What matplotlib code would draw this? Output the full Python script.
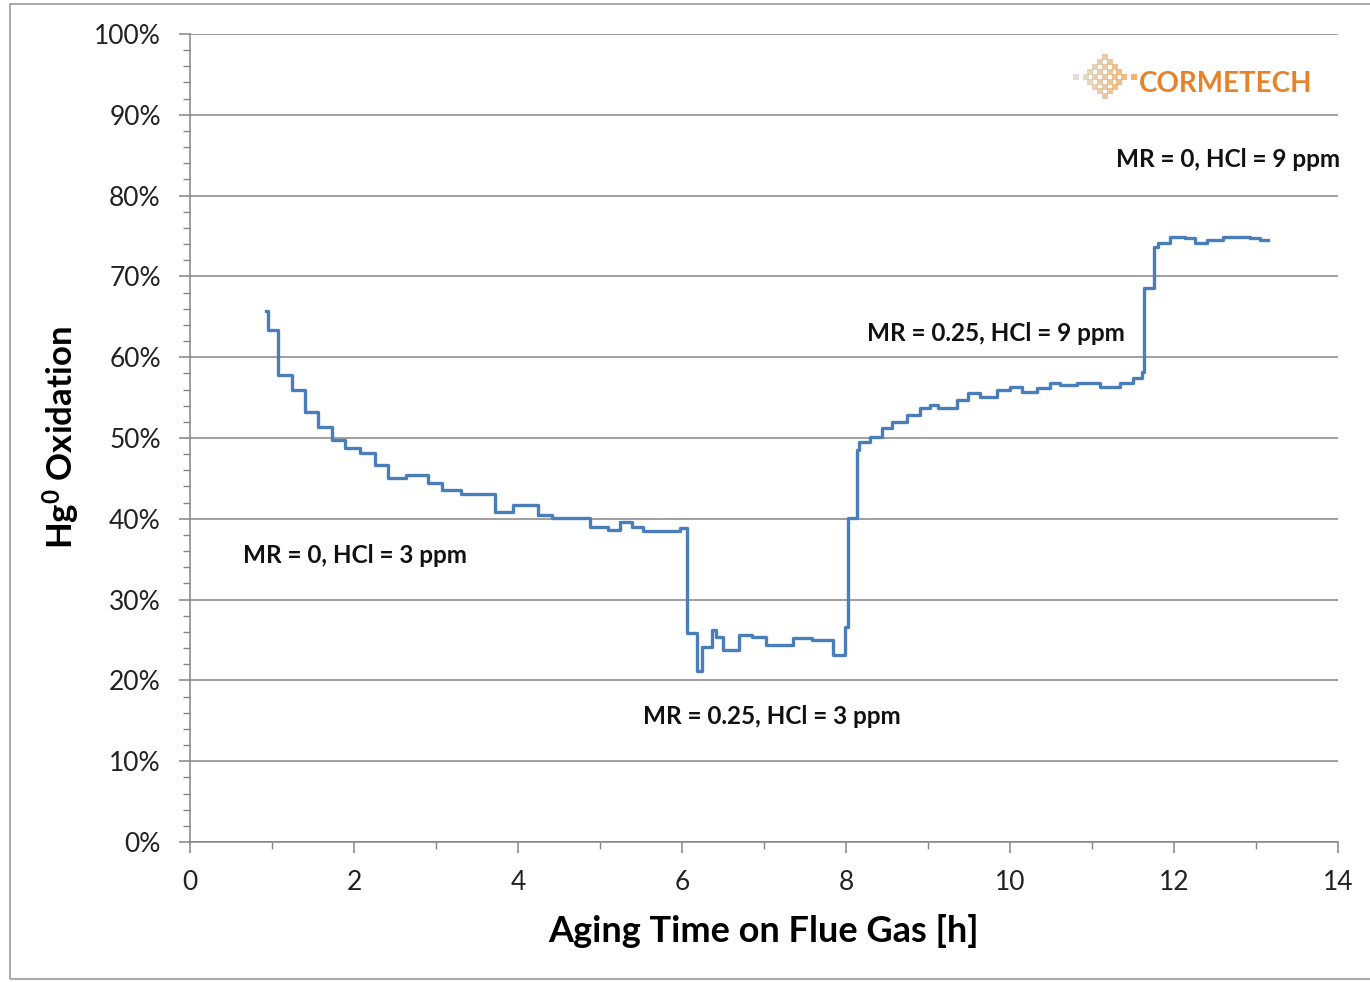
import numpy as np
import matplotlib
matplotlib.use("Agg")
import matplotlib.pyplot as plt
from matplotlib.patches import Rectangle
from matplotlib.ticker import MultipleLocator, FuncFormatter

plt.rcParams['font.family'] = ['Lato', 'DejaVu Sans']
plt.rcParams['mathtext.default'] = 'regular'

# step data: start time of each step [h] and Hg0 oxidation [%]
hours = [0.93, 0.95, 1.07, 1.24, 1.40, 1.56, 1.73, 1.89, 2.07, 2.26, 2.41, 2.64,
         2.90, 3.07, 3.30, 3.72, 3.94, 4.24, 4.41, 4.88, 5.10, 5.24, 5.39, 5.53,
         5.98, 6.06, 6.18, 6.24, 6.37, 6.41, 6.50, 6.70, 6.85, 7.03, 7.35, 7.58,
         7.84, 7.99, 8.02, 8.13, 8.16, 8.29, 8.44, 8.56, 8.74, 8.90, 9.02, 9.12,
         9.35, 9.49, 9.63, 9.84, 10.00, 10.15, 10.33, 10.49, 10.61, 10.82, 11.10,
         11.34, 11.50, 11.61, 11.64, 11.75, 11.80, 11.95, 12.13, 12.26, 12.40,
         12.60, 12.93, 13.05, 13.15]
oxidation = [65.7, 63.4, 57.8, 56.0, 53.2, 51.4, 49.8, 48.8, 48.1, 46.7, 45.0, 45.4,
             44.4, 43.6, 43.1, 40.8, 41.7, 40.5, 40.1, 39.0, 38.6, 39.6, 39.0, 38.5,
             38.9, 25.9, 21.2, 24.1, 26.2, 25.4, 23.8, 25.6, 25.4, 24.4, 25.3, 25.0,
             23.1, 26.6, 40.1, 48.5, 49.5, 50.1, 51.2, 52.0, 52.8, 53.7, 54.1, 53.7,
             54.7, 55.6, 55.1, 55.9, 56.3, 55.7, 56.2, 56.8, 56.6, 56.8, 56.3,
             56.8, 57.4, 58.2, 68.6, 73.6, 74.1, 74.9, 74.8, 74.1, 74.5,
             74.9, 74.8, 74.5, 74.5]

conditions = ["MR = 0, HCl = 3 ppm", "MR = 0.25, HCl = 3 ppm",
              "MR = 0.25, HCl = 9 ppm", "MR = 0, HCl = 9 ppm"]
cond_x = [2.01, 7.10, 9.83, 12.66]
cond_y = [35.5, 15.5, 62.9, 84.5]

fig = plt.figure(figsize=(13.7, 9.82), dpi=100)
ax = fig.add_axes([190/1370, 140/982, 1148/1370, 808/982])

ax.step(hours, oxidation, where='post', color='#4a7ebb', lw=2.4, zorder=3)

ax.set_xlim(0, 14)
ax.set_ylim(0, 100)
ax.xaxis.set_major_locator(MultipleLocator(2))
ax.xaxis.set_minor_locator(MultipleLocator(1))
ax.yaxis.set_major_locator(MultipleLocator(10))
ax.yaxis.set_minor_locator(MultipleLocator(2))
ax.yaxis.set_major_formatter(FuncFormatter(lambda v, p: '%d%%' % v))

ax.grid(axis='y', which='major', color='#858585', lw=1.1)
for s in ['top', 'right']:
    ax.spines[s].set_visible(False)
for s in ['left', 'bottom']:
    ax.spines[s].set_color('#858585')
    ax.spines[s].set_linewidth(1.1)
ax.tick_params(which='both', colors='#858585', labelcolor='#222222', labelsize=19)
ax.tick_params(which='major', length=8, width=1.1)
ax.tick_params(which='minor', length=5, width=1.0)
ax.tick_params(axis='x', pad=12)
ax.tick_params(axis='y', pad=13)

ax.set_xlabel('Aging Time on Flue Gas [h]', fontsize=26, fontweight='bold')
ax.set_ylabel('Hg$^0$ Oxidation', fontsize=25, fontweight='bold')
ax.xaxis.set_label_coords(0.5, -0.089)
ax.yaxis.set_label_coords(-0.094, 0.5)

for txt, cx, cy in zip(conditions, cond_x, cond_y):
    ax.text(cx, cy, txt, ha='center', va='center', fontsize=17.5,
            fontweight='bold', color='#111111')

# company logo: dotted diamond + name
logo_x, logo_y = 0.797, 0.947
for i in range(-6, 7):
    for j in range(-4, 5):
        if abs(i) / 6 + abs(j) / 4 <= 1 and (i + j) % 2 == 0:
            frac = (i + 6) / 12
            col = (0.78 + 0.18 * frac, 0.74 - 0.12 * frac, 0.66 - 0.4 * frac)
            ax.scatter(logo_x + i * 0.0042, logo_y + j * 0.006, s=14, marker='s',
                       color=col, alpha=0.5 + 0.3 * frac, transform=ax.transAxes,
                       lw=0, zorder=4, clip_on=False)
ax.text(0.902, 0.938, 'CORMETECH', transform=ax.transAxes, ha='center',
        va='center', fontsize=20, fontweight='bold', color='#e8822a')

# thin frame around the whole picture
fig.patches.append(Rectangle((10/1370, 3/982), 1.0, 975/982, transform=fig.transFigure,
                             fill=False, ec='#9a9a9a', lw=1.2))

fig.savefig('out.png', dpi=100)
